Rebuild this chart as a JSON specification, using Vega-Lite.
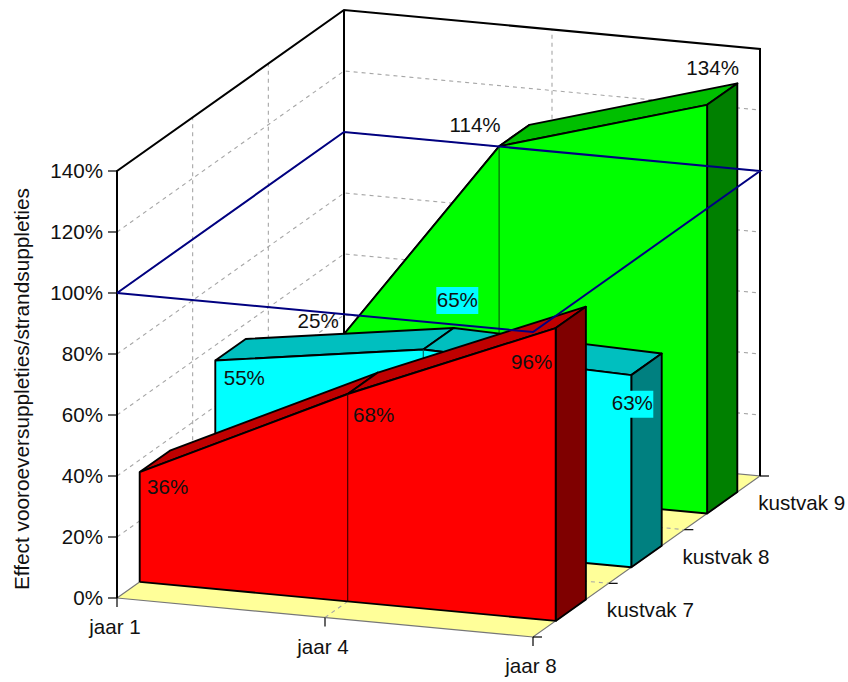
{
"$schema":"https://vega.github.io/schema/vega-lite/v6.json",
"width":848,"height":682,"padding":0,"background":"white",
"autosize":{"type":"fit","contains":"padding"},
"config":{"view":{"stroke":null},"text":{"font":"Liberation Sans","fontSize":20.6,"color":"#111"}},
"data":{"values":[
{"g":"vloer","s":"vloer","i":0,"t":0,"d":0,"pct":0},{"g":"vloer","s":"vloer","i":1,"t":1,"d":0,"pct":0},{"g":"vloer","s":"vloer","i":2,"t":1,"d":1,"pct":0},{"g":"vloer","s":"vloer","i":3,"t":0,"d":1,"pct":0},{"g":"vloer","s":"vloer","i":4,"t":0,"d":0,"pct":0},

{"g":"raster","s":"l20","i":0,"t":0,"d":0,"pct":20},{"g":"raster","s":"l20","i":1,"t":0,"d":1,"pct":20},{"g":"raster","s":"l20","i":2,"t":1,"d":1,"pct":20},
{"g":"raster","s":"l40","i":0,"t":0,"d":0,"pct":40},{"g":"raster","s":"l40","i":1,"t":0,"d":1,"pct":40},{"g":"raster","s":"l40","i":2,"t":1,"d":1,"pct":40},
{"g":"raster","s":"l60","i":0,"t":0,"d":0,"pct":60},{"g":"raster","s":"l60","i":1,"t":0,"d":1,"pct":60},{"g":"raster","s":"l60","i":2,"t":1,"d":1,"pct":60},
{"g":"raster","s":"l80","i":0,"t":0,"d":0,"pct":80},{"g":"raster","s":"l80","i":1,"t":0,"d":1,"pct":80},{"g":"raster","s":"l80","i":2,"t":1,"d":1,"pct":80},
{"g":"raster","s":"l100","i":0,"t":0,"d":0,"pct":100},{"g":"raster","s":"l100","i":1,"t":0,"d":1,"pct":100},{"g":"raster","s":"l100","i":2,"t":1,"d":1,"pct":100},
{"g":"raster","s":"l120","i":0,"t":0,"d":0,"pct":120},{"g":"raster","s":"l120","i":1,"t":0,"d":1,"pct":120},{"g":"raster","s":"l120","i":2,"t":1,"d":1,"pct":120},
{"g":"raster","s":"w1","i":0,"t":0,"d":0.3333,"pct":0},{"g":"raster","s":"w1","i":1,"t":0,"d":0.3333,"pct":140},
{"g":"raster","s":"w2","i":0,"t":0,"d":0.6667,"pct":0},{"g":"raster","s":"w2","i":1,"t":0,"d":0.6667,"pct":140},
{"g":"raster","s":"j4","i":0,"t":0.5,"d":0,"pct":0},{"g":"raster","s":"j4","i":1,"t":0.5,"d":1,"pct":0},{"g":"raster","s":"j4","i":2,"t":0.5,"d":1,"pct":140},
{"g":"raster","s":"v1","i":0,"t":0,"d":0.3333,"pct":0},{"g":"raster","s":"v1","i":1,"t":1,"d":0.3333,"pct":0},
{"g":"raster","s":"v2","i":0,"t":0,"d":0.6667,"pct":0},{"g":"raster","s":"v2","i":1,"t":1,"d":0.6667,"pct":0},

{"g":"kader","s":"rand","i":0,"t":0,"d":0,"pct":0},{"g":"kader","s":"rand","i":1,"t":0,"d":0,"pct":140},{"g":"kader","s":"rand","i":2,"t":0,"d":1,"pct":140},{"g":"kader","s":"rand","i":3,"t":1,"d":1,"pct":140},{"g":"kader","s":"rand","i":4,"t":1,"d":1,"pct":0},
{"g":"kader","s":"hoek","i":0,"t":0,"d":1,"pct":0},{"g":"kader","s":"hoek","i":1,"t":0,"d":1,"pct":140},

{"g":"k9","s":"k9b1","c":"k9 boven","i":0,"t":0,"d":0.767,"pct":25},{"g":"k9","s":"k9b1","c":"k9 boven","i":1,"t":0.5,"d":0.767,"pct":114},{"g":"k9","s":"k9b1","c":"k9 boven","i":2,"t":0.5,"d":0.9,"pct":114},{"g":"k9","s":"k9b1","c":"k9 boven","i":3,"t":0,"d":0.9,"pct":25},{"g":"k9","s":"k9b1","c":"k9 boven","i":4,"t":0,"d":0.767,"pct":25},
{"g":"k9","s":"k9b2","c":"k9 boven","i":0,"t":0.5,"d":0.767,"pct":114},{"g":"k9","s":"k9b2","c":"k9 boven","i":1,"t":1,"d":0.767,"pct":134},{"g":"k9","s":"k9b2","c":"k9 boven","i":2,"t":1,"d":0.9,"pct":134},{"g":"k9","s":"k9b2","c":"k9 boven","i":3,"t":0.5,"d":0.9,"pct":114},{"g":"k9","s":"k9b2","c":"k9 boven","i":4,"t":0.5,"d":0.767,"pct":114},
{"g":"k9","s":"k9z","c":"k9 zij","i":0,"t":1,"d":0.767,"pct":0},{"g":"k9","s":"k9z","c":"k9 zij","i":1,"t":1,"d":0.767,"pct":134},{"g":"k9","s":"k9z","c":"k9 zij","i":2,"t":1,"d":0.9,"pct":134},{"g":"k9","s":"k9z","c":"k9 zij","i":3,"t":1,"d":0.9,"pct":0},{"g":"k9","s":"k9z","c":"k9 zij","i":4,"t":1,"d":0.767,"pct":0},
{"g":"k9","s":"k9v","c":"k9 voor","i":0,"t":0,"d":0.767,"pct":0},{"g":"k9","s":"k9v","c":"k9 voor","i":1,"t":0,"d":0.767,"pct":25},{"g":"k9","s":"k9v","c":"k9 voor","i":2,"t":0.5,"d":0.767,"pct":114},{"g":"k9","s":"k9v","c":"k9 voor","i":3,"t":1,"d":0.767,"pct":134},{"g":"k9","s":"k9v","c":"k9 voor","i":4,"t":1,"d":0.767,"pct":0},{"g":"k9","s":"k9v","c":"k9 voor","i":5,"t":0,"d":0.767,"pct":0},
{"g":"naad9","s":"n9","i":0,"t":0.5,"d":0.767,"pct":0},{"g":"naad9","s":"n9","i":1,"t":0.5,"d":0.767,"pct":114},

{"g":"k8","s":"k8b1","c":"k8 boven","i":0,"t":0,"d":0.433,"pct":55},{"g":"k8","s":"k8b1","c":"k8 boven","i":1,"t":0.5,"d":0.433,"pct":65},{"g":"k8","s":"k8b1","c":"k8 boven","i":2,"t":0.5,"d":0.567,"pct":65},{"g":"k8","s":"k8b1","c":"k8 boven","i":3,"t":0,"d":0.567,"pct":55},{"g":"k8","s":"k8b1","c":"k8 boven","i":4,"t":0,"d":0.433,"pct":55},
{"g":"k8","s":"k8b2","c":"k8 boven","i":0,"t":0.5,"d":0.433,"pct":65},{"g":"k8","s":"k8b2","c":"k8 boven","i":1,"t":1,"d":0.433,"pct":63},{"g":"k8","s":"k8b2","c":"k8 boven","i":2,"t":1,"d":0.567,"pct":63},{"g":"k8","s":"k8b2","c":"k8 boven","i":3,"t":0.5,"d":0.567,"pct":65},{"g":"k8","s":"k8b2","c":"k8 boven","i":4,"t":0.5,"d":0.433,"pct":65},
{"g":"k8","s":"k8z","c":"k8 zij","i":0,"t":1,"d":0.433,"pct":0},{"g":"k8","s":"k8z","c":"k8 zij","i":1,"t":1,"d":0.433,"pct":63},{"g":"k8","s":"k8z","c":"k8 zij","i":2,"t":1,"d":0.567,"pct":63},{"g":"k8","s":"k8z","c":"k8 zij","i":3,"t":1,"d":0.567,"pct":0},{"g":"k8","s":"k8z","c":"k8 zij","i":4,"t":1,"d":0.433,"pct":0},
{"g":"k8","s":"k8v","c":"k8 voor","i":0,"t":0,"d":0.433,"pct":0},{"g":"k8","s":"k8v","c":"k8 voor","i":1,"t":0,"d":0.433,"pct":55},{"g":"k8","s":"k8v","c":"k8 voor","i":2,"t":0.5,"d":0.433,"pct":65},{"g":"k8","s":"k8v","c":"k8 voor","i":3,"t":1,"d":0.433,"pct":63},{"g":"k8","s":"k8v","c":"k8 voor","i":4,"t":1,"d":0.433,"pct":0},{"g":"k8","s":"k8v","c":"k8 voor","i":5,"t":0,"d":0.433,"pct":0},
{"g":"naad8","s":"n8","i":0,"t":0.5,"d":0.433,"pct":0},{"g":"naad8","s":"n8","i":1,"t":0.5,"d":0.433,"pct":65},

{"g":"k7","s":"k7b1","c":"k7 boven","i":0,"t":0,"d":0.1,"pct":36},{"g":"k7","s":"k7b1","c":"k7 boven","i":1,"t":0.5,"d":0.1,"pct":68},{"g":"k7","s":"k7b1","c":"k7 boven","i":2,"t":0.5,"d":0.233,"pct":68},{"g":"k7","s":"k7b1","c":"k7 boven","i":3,"t":0,"d":0.233,"pct":36},{"g":"k7","s":"k7b1","c":"k7 boven","i":4,"t":0,"d":0.1,"pct":36},
{"g":"k7","s":"k7b2","c":"k7 boven","i":0,"t":0.5,"d":0.1,"pct":68},{"g":"k7","s":"k7b2","c":"k7 boven","i":1,"t":1,"d":0.1,"pct":96},{"g":"k7","s":"k7b2","c":"k7 boven","i":2,"t":1,"d":0.233,"pct":96},{"g":"k7","s":"k7b2","c":"k7 boven","i":3,"t":0.5,"d":0.233,"pct":68},{"g":"k7","s":"k7b2","c":"k7 boven","i":4,"t":0.5,"d":0.1,"pct":68},
{"g":"k7","s":"k7z","c":"k7 zij","i":0,"t":1,"d":0.1,"pct":0},{"g":"k7","s":"k7z","c":"k7 zij","i":1,"t":1,"d":0.1,"pct":96},{"g":"k7","s":"k7z","c":"k7 zij","i":2,"t":1,"d":0.233,"pct":96},{"g":"k7","s":"k7z","c":"k7 zij","i":3,"t":1,"d":0.233,"pct":0},{"g":"k7","s":"k7z","c":"k7 zij","i":4,"t":1,"d":0.1,"pct":0},
{"g":"k7","s":"k7v","c":"k7 voor","i":0,"t":0,"d":0.1,"pct":0},{"g":"k7","s":"k7v","c":"k7 voor","i":1,"t":0,"d":0.1,"pct":36},{"g":"k7","s":"k7v","c":"k7 voor","i":2,"t":0.5,"d":0.1,"pct":68},{"g":"k7","s":"k7v","c":"k7 voor","i":3,"t":1,"d":0.1,"pct":96},{"g":"k7","s":"k7v","c":"k7 voor","i":4,"t":1,"d":0.1,"pct":0},{"g":"k7","s":"k7v","c":"k7 voor","i":5,"t":0,"d":0.1,"pct":0},
{"g":"naad7","s":"n7","i":0,"t":0.5,"d":0.1,"pct":0},{"g":"naad7","s":"n7","i":1,"t":0.5,"d":0.1,"pct":68},

{"g":"honderd","s":"h","i":0,"t":0,"d":0,"pct":100},{"g":"honderd","s":"h","i":1,"t":1,"d":0,"pct":100},{"g":"honderd","s":"h","i":2,"t":1,"d":1,"pct":100},{"g":"honderd","s":"h","i":3,"t":0,"d":1,"pct":100},{"g":"honderd","s":"h","i":4,"t":0,"d":0,"pct":100},

{"g":"asY","label":"0%","t":0,"d":0,"pct":0},{"g":"asY","label":"20%","t":0,"d":0,"pct":20},{"g":"asY","label":"40%","t":0,"d":0,"pct":40},{"g":"asY","label":"60%","t":0,"d":0,"pct":60},{"g":"asY","label":"80%","t":0,"d":0,"pct":80},{"g":"asY","label":"100%","t":0,"d":0,"pct":100},{"g":"asY","label":"120%","t":0,"d":0,"pct":120},{"g":"asY","label":"140%","t":0,"d":0,"pct":140},
{"g":"asX","label":"jaar 1","t":0,"d":0,"pct":0},{"g":"asX","label":"jaar 4","t":0.5,"d":0,"pct":0},{"g":"asX","label":"jaar 8","t":1,"d":0,"pct":0},
{"g":"asZ","t":1,"d":0,"pct":0},{"g":"asZ","t":1,"d":0.3333,"pct":0},{"g":"asZ","t":1,"d":0.6667,"pct":0},{"g":"asZ","t":1,"d":1,"pct":0},
{"g":"asZtekst","label":"kustvak 7","t":1,"d":0.1667,"pct":0},{"g":"asZtekst","label":"kustvak 8","t":1,"d":0.5,"pct":0},{"g":"asZtekst","label":"kustvak 9","t":1,"d":0.8333,"pct":0},
{"g":"titel","label":"Effect vooroeversuppleties/strandsuppleties","t":0,"d":0,"pct":68.5},

{"g":"waarde","label":"25%","t":0,"d":0.767,"pct":25},{"g":"waarde","label":"114%","t":0.5,"d":0.767,"pct":114},{"g":"waarde","label":"134%","t":1,"d":0.767,"pct":134},
{"g":"waarde","label":"55%","t":0,"d":0.433,"pct":55},{"g":"waarde","label":"65%","t":0.5,"d":0.433,"pct":65},{"g":"waarde","label":"63%","t":1,"d":0.433,"pct":63},
{"g":"waarde","label":"36%","t":0,"d":0.1,"pct":36},{"g":"waarde","label":"68%","t":0.5,"d":0.1,"pct":68},{"g":"waarde","label":"96%","t":1,"d":0.1,"pct":96}
]},
"transform":[
{"calculate":"117+416*datum.t+227*datum.d","as":"sx"},
{"calculate":"598+39*datum.t-161*datum.d-3.05*datum.pct","as":"sy"}
],
"encoding":{
"x":{"field":"sx","type":"quantitative","axis":null,"scale":{"domain":[0,848],"nice":false,"zero":false}},
"y":{"field":"sy","type":"quantitative","axis":null,"scale":{"domain":[0,682],"nice":false,"zero":false,"reverse":true}}
},
"layer":[
{"transform":[{"filter":"datum.g==='vloer'"}],"mark":{"type":"line","fill":"#FFFF99","stroke":"#777","strokeWidth":1.2},"encoding":{"detail":{"field":"s"},"order":{"field":"i"}}},
{"transform":[{"filter":"datum.g==='raster'"}],"mark":{"type":"line","stroke":"#a6a6a6","strokeWidth":1.1,"strokeDash":[4,4]},"encoding":{"detail":{"field":"s"},"order":{"field":"i"}}},
{"transform":[{"filter":"datum.g==='kader'"}],"mark":{"type":"line","stroke":"black","strokeWidth":2,"strokeJoin":"miter"},"encoding":{"detail":{"field":"s"},"order":{"field":"i"}}},

{"transform":[{"filter":"datum.g==='k9'"}],"mark":{"type":"line","stroke":"black","strokeWidth":1.9,"strokeJoin":"round"},"encoding":{"detail":{"field":"s"},"order":{"field":"i"},"fill":{"field":"c","legend":null,"scale":{"domain":["k9 voor","k9 boven","k9 zij","k8 voor","k8 boven","k8 zij","k7 voor","k7 boven","k7 zij"],"range":["#00FF00","#00BF00","#008000","#00FFFF","#00BFBF","#008080","#FF0000","#BF0000","#7F0000"]}}}},
{"transform":[{"filter":"datum.g==='naad9'"}],"mark":{"type":"line","stroke":"#0a5a0a","strokeWidth":1.1},"encoding":{"order":{"field":"i"}}},
{"transform":[{"filter":"datum.g==='k8'"}],"mark":{"type":"line","stroke":"black","strokeWidth":1.9,"strokeJoin":"round"},"encoding":{"detail":{"field":"s"},"order":{"field":"i"},"fill":{"field":"c","legend":null}}},
{"transform":[{"filter":"datum.g==='naad8'"}],"mark":{"type":"line","stroke":"#075a5a","strokeWidth":1.1},"encoding":{"order":{"field":"i"}}},
{"transform":[{"filter":"datum.g==='k7'"}],"mark":{"type":"line","stroke":"black","strokeWidth":1.9,"strokeJoin":"round"},"encoding":{"detail":{"field":"s"},"order":{"field":"i"},"fill":{"field":"c","legend":null}}},
{"transform":[{"filter":"datum.g==='naad7'"}],"mark":{"type":"line","stroke":"#300","strokeWidth":1.1},"encoding":{"order":{"field":"i"}}},

{"transform":[{"filter":"datum.g==='honderd'"}],"mark":{"type":"line","stroke":"#000080","strokeWidth":2},"encoding":{"order":{"field":"i"}}},

{"transform":[{"filter":"datum.g==='asY'"}],"mark":{"type":"tick","orient":"horizontal","size":9,"thickness":1.2,"color":"black","xOffset":-4.5,"opacity":1}},
{"transform":[{"filter":"datum.g==='asX'"}],"mark":{"type":"tick","orient":"vertical","size":9,"thickness":1.2,"color":"black","yOffset":4.5,"opacity":1}},
{"transform":[{"filter":"datum.g==='asZ'"}],"mark":{"type":"tick","orient":"horizontal","size":9,"thickness":1.2,"color":"black","xOffset":4.5,"opacity":1}},

{"transform":[{"filter":"datum.g==='asY'"}],"mark":{"type":"text","align":"right","baseline":"middle","dx":-14,"dy":1},"encoding":{"text":{"field":"label"}}},
{"transform":[{"filter":"datum.g==='asX'"}],"mark":{"type":"text","align":"center","baseline":"middle","dx":-2,"dy":30},"encoding":{"text":{"field":"label"}}},
{"transform":[{"filter":"datum.g==='asZtekst'"}],"mark":{"type":"text","align":"left","baseline":"middle","dx":36,"dy":1},"encoding":{"text":{"field":"label"}}},
{"transform":[{"filter":"datum.g==='titel'"}],"mark":{"type":"text","align":"center","baseline":"middle","angle":270,"dy":-94,"fontSize":20.8},"encoding":{"text":{"field":"label"}}},

{"transform":[{"filter":"datum.label==='65%'"}],"mark":{"type":"rect","color":"#00FFFF","width":42,"height":27,"xOffset":34,"yOffset":-49}},
{"transform":[{"filter":"datum.label==='63%'"}],"mark":{"type":"rect","color":"#00FFFF","width":42,"height":27,"xOffset":1,"yOffset":29}},

{"transform":[{"filter":"datum.label==='25%'"}],"mark":{"type":"text","align":"center","baseline":"middle","dx":27,"dy":-76},"encoding":{"text":{"field":"label"}}},
{"transform":[{"filter":"datum.label==='114%'"}],"mark":{"type":"text","align":"center","baseline":"middle","dx":-24,"dy":-20},"encoding":{"text":{"field":"label"}}},
{"transform":[{"filter":"datum.label==='134%'"}],"mark":{"type":"text","align":"center","baseline":"middle","dx":5.5,"dy":-36},"encoding":{"text":{"field":"label"}}},
{"transform":[{"filter":"datum.label==='55%'"}],"mark":{"type":"text","align":"center","baseline":"middle","dx":29,"dy":18},"encoding":{"text":{"field":"label"}}},
{"transform":[{"filter":"datum.label==='65%'"}],"mark":{"type":"text","align":"center","baseline":"middle","dx":34,"dy":-49},"encoding":{"text":{"field":"label"}}},
{"transform":[{"filter":"datum.label==='63%'"}],"mark":{"type":"text","align":"center","baseline":"middle","dx":1,"dy":29},"encoding":{"text":{"field":"label"}}},
{"transform":[{"filter":"datum.label==='36%'"}],"mark":{"type":"text","align":"center","baseline":"middle","dx":28,"dy":16},"encoding":{"text":{"field":"label"}}},
{"transform":[{"filter":"datum.label==='68%'"}],"mark":{"type":"text","align":"center","baseline":"middle","dx":26,"dy":22},"encoding":{"text":{"field":"label"}}},
{"transform":[{"filter":"datum.label==='96%'"}],"mark":{"type":"text","align":"center","baseline":"middle","dx":-24,"dy":35},"encoding":{"text":{"field":"label"}}}
]
}
